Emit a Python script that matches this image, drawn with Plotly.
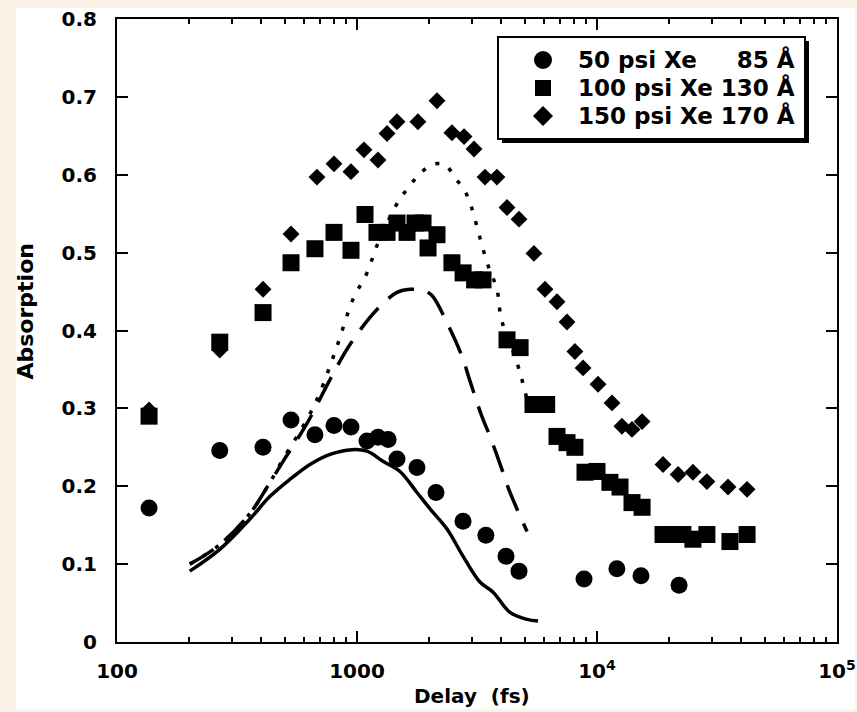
import plotly.graph_objects as go

# ---------------- data ----------------
# 50 psi Xe, 85 Å  (circles)
x_50 = [136, 268, 406, 531, 668, 802, 944, 1101, 1223, 1348, 1468, 1778, 2134,
        2765, 3443, 4177, 4732, 8830, 12100, 15250, 21970]
y_50 = [0.172, 0.246, 0.250, 0.285, 0.266, 0.278, 0.276, 0.258, 0.263, 0.260, 0.235, 0.224, 0.192,
        0.155, 0.137, 0.110, 0.091, 0.081, 0.094, 0.085, 0.073]

# 100 psi Xe, 130 Å  (squares)
x_100 = [136, 268, 406, 531, 668, 802, 944, 1080, 1211, 1334, 1468, 1616, 1745, 1884, 1977, 2154,
         2486, 2768, 3090, 3350, 4217, 4782, 5410, 6170, 6813, 7500, 8090, 8913, 10000, 11320,
         12470, 13990, 15410, 18840, 20730, 22800, 25100, 28700, 35800, 42200]
y_100 = [0.290, 0.385, 0.423, 0.487, 0.505, 0.526, 0.503, 0.549, 0.526, 0.526, 0.538, 0.526, 0.538,
         0.538, 0.506, 0.523, 0.487, 0.474, 0.465, 0.465, 0.388, 0.378, 0.305, 0.305, 0.264, 0.256,
         0.250, 0.218, 0.219, 0.205, 0.199, 0.179, 0.173, 0.138, 0.138, 0.138, 0.132, 0.138, 0.129,
         0.138]

# 150 psi Xe, 170 Å  (diamonds)
x_150 = [136, 268, 406, 531, 681, 802, 944, 1069, 1223, 1334, 1468, 1794, 2154, 2486, 2793, 3073,
         3415, 3828, 4217, 4732, 5460, 6070, 6813, 7500, 8090, 8750, 10100, 11550, 12700, 13990,
         15410, 18840, 21780, 25100, 28700, 35150, 42200]
y_150 = [0.298, 0.375, 0.453, 0.524, 0.597, 0.614, 0.604, 0.632, 0.619, 0.653, 0.668, 0.668, 0.695,
         0.654, 0.649, 0.633, 0.597, 0.597, 0.558, 0.543, 0.499, 0.453, 0.437, 0.411, 0.373, 0.352,
         0.331, 0.307, 0.277, 0.273, 0.283, 0.228, 0.215, 0.218, 0.206, 0.199, 0.196]

# model curves
x_solid = [201, 268, 358, 434, 526, 637, 772, 953, 1101, 1283, 1510, 1778, 2015, 2371, 2768, 3252,
           3690, 4340, 5110, 5680]
y_solid = [0.091, 0.119, 0.158, 0.187, 0.209, 0.228, 0.241, 0.247, 0.245, 0.232, 0.219, 0.192,
           0.171, 0.145, 0.110, 0.077, 0.064, 0.038, 0.029, 0.027]

x_dash = [201, 268, 358, 434, 492, 617, 772, 935, 1211, 1468, 1663, 1900, 2054, 2371, 2738, 2958,
          3311, 3582, 4055, 4340, 5110]
y_dash = [0.100, 0.125, 0.165, 0.205, 0.232, 0.280, 0.337, 0.382, 0.427, 0.449, 0.453, 0.451,
          0.445, 0.410, 0.367, 0.335, 0.290, 0.264, 0.218, 0.192, 0.142]

x_dot = [201, 268, 358, 434, 492, 617, 700, 826, 962, 1101, 1211, 1482, 1632, 1811, 2054, 2326,
         2560, 2793, 2985, 3221, 3483, 3828, 4000, 4640, 5010, 5360]
y_dot = [0.100, 0.125, 0.165, 0.205, 0.235, 0.285, 0.320, 0.380, 0.440, 0.474, 0.509, 0.565, 0.583,
         0.600, 0.613, 0.613, 0.596, 0.581, 0.560, 0.524, 0.487, 0.453, 0.414, 0.359, 0.322, 0.286]

legend_labels = ["50 psi Xe\u00a0\u00a0\u00a0\u00a0 85 Å",
                 "100 psi Xe 130 Å",
                 "150 psi Xe 170 Å"]

x_tickvals = [100, 1000, 10000, 100000]
x_ticktext = ["100", "1000", "10<sup>4</sup>", "10<sup>5</sup>"]

# ---------------- figure ----------------
W, H = 857, 712
L, R, T, B = 117, 20, 19, 70
PW, PH = W - L - R, H - T - B


def px(xp):
    return (xp - L) / PW


def py(yp):
    return (H - B - yp) / PH


FONT = "DejaVu Sans"
fig = go.Figure()

fig.add_trace(go.Scatter(x=x_solid, y=y_solid, mode="lines",
                         line=dict(color="black", width=3.5, shape="spline"),
                         showlegend=False))
fig.add_trace(go.Scatter(x=x_dash, y=y_dash, mode="lines",
                         line=dict(color="black", width=3.5, dash="28px,14px", shape="spline"),
                         showlegend=False))
fig.add_trace(go.Scatter(x=x_dot, y=y_dot, mode="lines",
                         line=dict(color="black", width=3.5, dash="4px,11px", shape="spline"),
                         showlegend=False))

fig.add_trace(go.Scatter(x=x_50, y=y_50, mode="markers", name=legend_labels[0],
                         marker=dict(symbol="circle", size=17, color="black"), showlegend=False))
fig.add_trace(go.Scatter(x=x_100, y=y_100, mode="markers", name=legend_labels[1],
                         marker=dict(symbol="square", size=17, color="black"), showlegend=False))
fig.add_trace(go.Scatter(x=x_150, y=y_150, mode="markers", name=legend_labels[2],
                         marker=dict(symbol="diamond", size=13, color="black"), showlegend=False))

minor_vals = [m * 10 ** k for k in (2, 3, 4) for m in range(2, 10)]

fig.update_xaxes(type="log", range=[2, 5],
                 tickvals=x_tickvals, ticktext=x_ticktext,
                 ticks="inside", ticklen=11, tickwidth=2, tickcolor="black",
                 showline=True, linewidth=2, linecolor="black", mirror="ticks",
                 showgrid=False, zeroline=False,
                 tickfont=dict(family=FONT, size=20, color="black", weight="bold"),
                 ticklabelstandoff=10,
                 minor=dict(tickvals=minor_vals, ticks="inside", ticklen=5,
                            tickwidth=1.5, tickcolor="black", showgrid=False))
fig.update_yaxes(range=[0, 0.8], dtick=0.1, tick0=0,
                 ticks="inside", ticklen=11, tickwidth=2, tickcolor="black",
                 showline=True, linewidth=2, linecolor="black", mirror="ticks",
                 showgrid=False, zeroline=False,
                 tickfont=dict(family=FONT, size=20, color="black", weight="bold"),
                 ticklabelstandoff=14)

shapes = []
# white page area
shapes.append(dict(type="rect", xref="paper", yref="paper", layer="below",
                   x0=px(16), x1=px(855), y0=py(709), y1=py(8),
                   fillcolor="white", line=dict(width=0)))
# legend shadow + box
shapes.append(dict(type="rect", xref="paper", yref="paper",
                   x0=px(502), x1=px(809), y0=py(143), y1=py(41),
                   fillcolor="black", line=dict(width=0)))
shapes.append(dict(type="rect", xref="paper", yref="paper",
                   x0=px(498), x1=px(805), y0=py(139), y1=py(37),
                   fillcolor="white", line=dict(color="black", width=2)))
# legend symbols
cx = 543
rows = [60, 88, 116]
shapes.append(dict(type="circle", xref="paper", yref="paper",
                   x0=px(cx - 9), x1=px(cx + 9), y0=py(rows[0] + 9), y1=py(rows[0] - 9),
                   fillcolor="black", line=dict(width=0)))
shapes.append(dict(type="rect", xref="paper", yref="paper",
                   x0=px(cx - 8), x1=px(cx + 8), y0=py(rows[1] + 8), y1=py(rows[1] - 8),
                   fillcolor="black", line=dict(width=0)))
d = 10
shapes.append(dict(type="path", xref="paper", yref="paper",
                   path=f"M {px(cx - d)} {py(rows[2])} L {px(cx)} {py(rows[2] - d)} "
                        f"L {px(cx + d)} {py(rows[2])} L {px(cx)} {py(rows[2] + d)} Z",
                   fillcolor="black", line=dict(width=0)))

annotations = []
for lab, ry in zip(legend_labels, rows):
    annotations.append(dict(text=lab, xref="paper", yref="paper", x=px(576), y=py(ry),
                            xanchor="left", yanchor="middle", showarrow=False,
                            font=dict(family=FONT, size=23, color="black", weight="bold")))
annotations.append(dict(text="Absorption", xref="paper", yref="paper",
                        x=px(24.5), y=py(312), xanchor="center", yanchor="middle",
                        textangle=-90, showarrow=False,
                        font=dict(family=FONT, size=22, color="black", weight="bold")))
annotations.append(dict(text="Delay\u00a0 (fs)", xref="paper", yref="paper",
                        x=px(472), y=py(696), xanchor="center", yanchor="middle",
                        showarrow=False,
                        font=dict(family=FONT, size=20, color="black", weight="bold")))

fig.update_layout(width=W, height=H,
                  margin=dict(l=L, r=R, t=T, b=B, autoexpand=False),
                  paper_bgcolor="#fbf2e8", plot_bgcolor="white",
                  shapes=shapes, annotations=annotations,
                  showlegend=False)

fig.write_html("out.html")
